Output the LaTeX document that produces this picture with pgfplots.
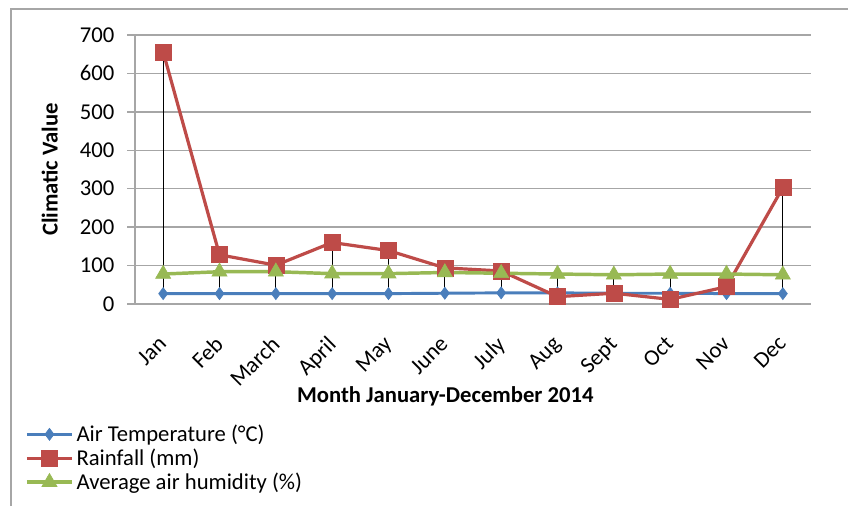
\documentclass[border=0pt]{standalone}
\usepackage{pgfplots}
\pgfplotsset{compat=1.18}
\usepackage{pgfplotstable}
\usepackage{fontspec}
\setmainfont{Carlito}
\definecolor{cblue}{HTML}{4A7EBB}
\definecolor{cred}{HTML}{BE4B48}
\definecolor{cgreen}{HTML}{98B954}
\definecolor{gridc}{HTML}{A6A6A6}

\pgfplotstableread{
x temp rain hum lo hi
0  27 656 78 27 656
1  27 128 84 27 128
2  27 101 84 27 101
3  27 160 79 27 160
4  27 139 79 27 139
5  28  94 82 28 94
6  29  86 80 29 86
7  29  19 78 19 78
8  28  28 76 28 76
9  28  12 78 12 78
10 27  45 78 27 78
11 27 303 76 27 303
}\data

\begin{document}
\begin{tikzpicture}[x=0.75pt,y=0.75pt]
\useasboundingbox (0,0) rectangle (848,506);
\draw[gridc, line width=1.2pt] (11,0) -- (11,497) -- (848,497);
\begin{axis}[
  at={(101.25pt,151.5pt)}, anchor=south west,
  scale only axis, width=507pt, height=201.75pt,
  xmin=-0.5, xmax=11.5, ymin=0, ymax=700,
  ytick={0,100,...,700},
  xtick={0,...,11},
  xticklabels={Jan,Feb,March,April,May,June,July,Aug,Sept,Oct,Nov,Dec},
  axis x line*=bottom, axis y line*=left,
  axis line style={gridc, line width=1pt},
  ymajorgrids, grid style={gridc, line width=1pt},
  tick align=outside, major tick length=6pt,
  ytick style={gridc, line width=1pt},
  xtick style={draw=none},
  /pgf/number format/assume math mode=true,
  tick label style={font=\fontsize{17}{19}\selectfont},
  yticklabel style={xshift=-6pt},
  xticklabel style={xshift=-4.5pt, yshift=-15.5pt, rotate=45, anchor=north east, inner sep=1pt},
  ylabel={\textbf{Climatic Value}},
  ylabel style={at={(-0.126,0.5)}, anchor=center, font=\fontsize{17}{19}\selectfont},
  xlabel={\textbf{Month January-December 2014}},
  xlabel style={at={(0.459,-0.345)}, anchor=center, font=\fontsize{17}{19}\selectfont},
  legend style={at={(-0.163,-0.439)}, anchor=north west, draw=none, fill=none,
    font=\fontsize{17}{18.4}\selectfont, inner sep=0pt, row sep=0pt},
  legend cell align=left,
  legend image code/.code={\draw[mark repeat=2,mark phase=2] plot coordinates {(0pt,0pt)(17pt,0pt)(34pt,0pt)};},
]
\addplot[cblue, line width=2.2pt, mark=diamond*, mark size=4.5pt, mark options={solid, fill=cblue, line width=0.5pt}] table[x=x, y=temp] {\data};
\addlegendentry{Air Temperature (°C)}
\addplot[cred, line width=2.4pt, mark=square*, mark size=6pt, mark options={solid, fill=cred, line width=0.5pt}] table[x=x, y=rain] {\data};
\addlegendentry{Rainfall (mm)}
\addplot[cgreen, line width=2.6pt, mark=triangle*, mark size=6.5pt, mark options={solid, fill=cgreen, line width=0.5pt}] table[x=x, y=hum] {\data};
\addlegendentry{Average air humidity (\%)}
\addplot[draw=none, mark=none, forget plot,
  error bars/.cd, y dir=plus, y explicit, error mark=none,
  error bar style={black, line width=0.7pt}]
  table[x=x, y=lo, y error expr=\thisrow{hi}-\thisrow{lo}] {\data};
\end{axis}
\end{tikzpicture}
\end{document}
